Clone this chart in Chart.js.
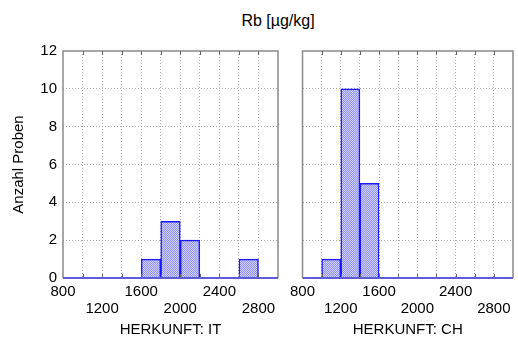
<!DOCTYPE html>
<html>
<head>
<meta charset="utf-8">
<script src="https://cdn.jsdelivr.net/npm/chart.js@4"></script>
<style>
body { margin: 0; background: #fff; width: 518px; height: 340px; position: relative; overflow: hidden; font-family: "Liberation Sans", Arial, sans-serif; }
#title { position: absolute; left: 0; top: 12px; width: 556px; text-align: center; font-size: 16px; color: #000; }
.panel { position: absolute; top: 0; height: 340px; }
</style>
</head>
<body>
<div id="title">Rb [µg/kg]</div>
<div class="panel" style="left:0;width:290px"><canvas id="chartIT"></canvas></div>
<div class="panel" style="left:285px;width:233px"><canvas id="chartCH"></canvas></div>
<script>
// histogram bins (centres, width 200)
const binCenters = [900, 1100, 1300, 1500, 1700, 1900, 2100, 2300, 2500, 2700, 2900];
const countsIT = [0, 0, 0, 0, 1, 3, 2, 0, 0, 1, 0];
const countsCH = [0, 1, 10, 5, 0, 0, 0, 0, 0, 0, 0];
const xTickLabels = [800, 1200, 1600, 2000, 2400, 2800];
const yTicks = [0, 2, 4, 6, 8, 10, 12];

const FONT = "'Liberation Sans', Arial, sans-serif";

// dotted blue fill like the original hatching
function hatchPattern() {
    const c = document.createElement('canvas');
    c.width = 2; c.height = 2;
    const g = c.getContext('2d');
    g.fillStyle = '#d2d2ff';
    g.fillRect(0, 0, 2, 2);
    g.fillStyle = '#9090ff';
    g.fillRect(0, 0, 1, 1);
    g.fillRect(1, 1, 1, 1);
    return g.createPattern(c, 'repeat');
}

// frame, inner tick marks and blue baseline
const framePlugin = {
    id: 'frame',
    afterDatasetsDraw(chart) {
        const {ctx, chartArea: a, scales: {x}} = chart;
        ctx.save();
        ctx.strokeStyle = '#8a8a8a';
        ctx.lineWidth = 1.5;
        ctx.beginPath();
        ctx.moveTo(a.left, a.bottom);
        ctx.lineTo(a.left, a.top);
        ctx.lineTo(a.right, a.top);
        ctx.lineTo(a.right, a.bottom);
        ctx.stroke();
        ctx.strokeStyle = '#666';
        ctx.lineWidth = 1;
        ctx.beginPath();
        x.ticks.forEach(t => {
            if (t.value <= x.min || t.value >= x.max) return;
            const px = Math.round(x.getPixelForValue(t.value)) + 0.5;
            ctx.moveTo(px, a.top);
            ctx.lineTo(px, a.top + 4);
            ctx.moveTo(px, a.bottom);
            ctx.lineTo(px, a.bottom - 4);
        });
        ctx.stroke();
        ctx.strokeStyle = '#5c5cd8';
        ctx.lineWidth = 2;
        ctx.beginPath();
        ctx.moveTo(a.left, a.bottom);
        ctx.lineTo(a.right, a.bottom);
        ctx.stroke();
        ctx.restore();
    }
};

function makeChart(id, counts, label, showY, areaLeft, padRight) {
    const ctx = document.getElementById(id).getContext('2d');
    const gridColor = (c) => (c.tick && (c.tick.value === c.scale.min || c.tick.value === c.scale.max)) ? 'rgba(0,0,0,0)' : '#a8a8a8';
    return new Chart(ctx, {
        type: 'bar',
        data: {
            datasets: [{
                data: binCenters.map((x, i) => ({x: x, y: counts[i]})),
                backgroundColor: hatchPattern(),
                borderColor: '#1a1aff',
                borderWidth: 1.5,
                borderSkipped: 'start',
                barPercentage: 1,
                categoryPercentage: 1,
                grouped: false
            }]
        },
        options: {
            responsive: true,
            maintainAspectRatio: false,
            animation: false,
            layout: { padding: { top: 51, right: padRight, bottom: 0, left: 0 } },
            plugins: { legend: { display: false }, tooltip: { enabled: false } },
            scales: {
                x: {
                    type: 'linear',
                    min: 800,
                    max: 3000,
                    offset: false,
                    afterFit: (s) => { s.height = 62; },
                    afterBuildTicks: (s) => {
                        const t = [];
                        for (let v = 800; v <= 3000; v += 200) t.push({value: v});
                        s.ticks = t;
                    },
                    grid: { color: gridColor, drawTicks: false, offset: false },
                    border: { display: false, dash: [1, 2] },
                    ticks: {
                        autoSkip: false,
                        maxRotation: 0,
                        padding: 5,
                        color: '#000',
                        font: { family: FONT, size: 15, lineHeight: 1.15 },
                        callback: (v) => {
                            const i = xTickLabels.indexOf(v);
                            if (i < 0) return '';
                            return i % 2 === 0 ? [String(v), ''] : ['', String(v)];
                        }
                    },
                    title: {
                        display: true,
                        text: label,
                        color: '#000',
                        font: { family: FONT, size: 15 },
                        padding: { top: 0, bottom: 1 }
                    }
                },
                y: {
                    min: 0,
                    max: 12,
                    afterFit: (s) => { s.width = areaLeft; },
                    afterBuildTicks: (s) => { s.ticks = yTicks.map(v => ({value: v})); },
                    grid: { color: gridColor, drawTicks: false },
                    border: { display: false, dash: [1, 2] },
                    ticks: {
                        display: showY,
                        padding: 6,
                        color: '#000',
                        font: { family: FONT, size: 15 }
                    },
                    title: {
                        display: showY,
                        text: 'Anzahl Proben',
                        color: '#000',
                        font: { family: FONT, size: 15 },
                        padding: { top: 10, bottom: 0 }
                    }
                }
            }
        },
        plugins: [framePlugin]
    });
}

makeChart('chartIT', countsIT, 'HERKUNFT: IT', true, 63, 12);
makeChart('chartCH', countsCH, 'HERKUNFT: CH', false, 13, 5);
</script>
</body>
</html>
